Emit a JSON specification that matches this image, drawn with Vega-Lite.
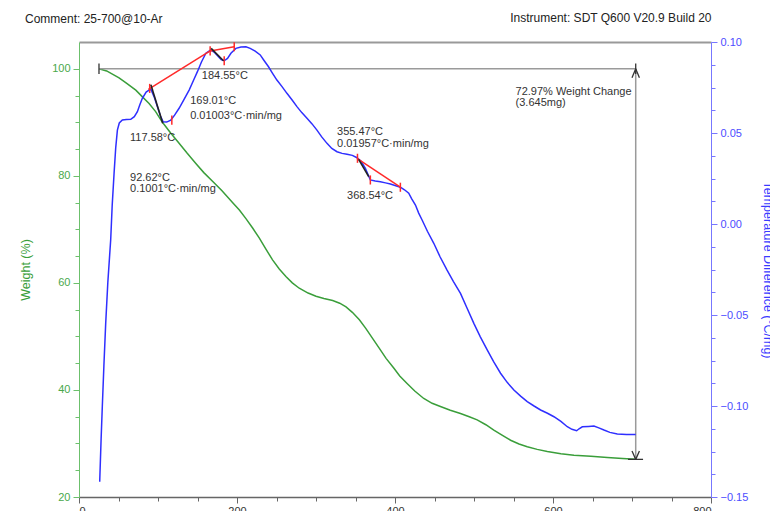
{
  "$schema": "https://vega.github.io/schema/vega-lite/v6.json",
  "width": 632,
  "height": 455,
  "autosize": {"type": "none"},
  "padding": {"left": 79, "top": 42, "right": 59, "bottom": 14},
  "background": "white",
  "config": {"view": {"stroke": null}, "font": "Liberation Sans", "axis": {"grid": false, "labelFontSize": 11, "titleFontSize": 12.5, "titleFontWeight": "normal", "labelOverlap": false}},
  "title": {"text": "Comment: 25-700@10-Ar", "anchor": "start", "frame": "group", "dx": -54, "dy": 15, "fontSize": 12, "fontWeight": "normal", "color": "#222", "offset": 0},
  "datasets": {
    "weight": [
      {"T": 25.3, "W": 100}, {"T": 35, "W": 99.6}, {"T": 50.7, "W": 98.3}, {"T": 60, "W": 97.3}, {"T": 71.9, "W": 96.0}, {"T": 80, "W": 94.8}, {"T": 88.7, "W": 93.5}, {"T": 97, "W": 92.0}, {"T": 105.6, "W": 90.0}, {"T": 116, "W": 88.0}, {"T": 126.7, "W": 86.1}, {"T": 137, "W": 84.2}, {"T": 147.9, "W": 82.3}, {"T": 158, "W": 80.6}, {"T": 169, "W": 79.0}, {"T": 181, "W": 77.2}, {"T": 194.3, "W": 75.0}, {"T": 203, "W": 73.6}, {"T": 211.3, "W": 72.0}, {"T": 220, "W": 70.2}, {"T": 228.1, "W": 68.4}, {"T": 236.6, "W": 66.3}, {"T": 245, "W": 64.3}, {"T": 253.5, "W": 62.6}, {"T": 261.9, "W": 61.2}, {"T": 270, "W": 60.0}, {"T": 278.8, "W": 59.0}, {"T": 290, "W": 58.1}, {"T": 300, "W": 57.5}, {"T": 310, "W": 57.1}, {"T": 321.1, "W": 56.7}, {"T": 330, "W": 56.2}, {"T": 338, "W": 55.5}, {"T": 346, "W": 54.5}, {"T": 354.9, "W": 53.1}, {"T": 363, "W": 51.5}, {"T": 371.8, "W": 49.6}, {"T": 380, "W": 47.8}, {"T": 388.7, "W": 45.9}, {"T": 398.4, "W": 44.1}, {"T": 406, "W": 42.6}, {"T": 415.3, "W": 41.2}, {"T": 425, "W": 39.8}, {"T": 436.4, "W": 38.4}, {"T": 447, "W": 37.5}, {"T": 457.5, "W": 36.9}, {"T": 470, "W": 36.2}, {"T": 482.9, "W": 35.6}, {"T": 494, "W": 35.0}, {"T": 504, "W": 34.4}, {"T": 515, "W": 33.5}, {"T": 525.1, "W": 32.5}, {"T": 536, "W": 31.5}, {"T": 546.3, "W": 30.6}, {"T": 557, "W": 29.9}, {"T": 567.4, "W": 29.4}, {"T": 580, "W": 28.9}, {"T": 592.8, "W": 28.5}, {"T": 610, "W": 28.1}, {"T": 626.5, "W": 27.8}, {"T": 648, "W": 27.6}, {"T": 668.8, "W": 27.4}, {"T": 688, "W": 27.2}, {"T": 704.7, "W": 27.05}
    ],
    "dta": [
      {"T": 26.2, "D": -0.1416}, {"T": 28, "D": -0.118}, {"T": 29.5, "D": -0.1004}, {"T": 31.5, "D": -0.078}, {"T": 33.8, "D": -0.0546}, {"T": 36.5, "D": -0.032}, {"T": 40.1, "D": -0.0088}, {"T": 42, "D": 0.010}, {"T": 44.4, "D": 0.0279}, {"T": 46.5, "D": 0.042}, {"T": 48.6, "D": 0.0516}, {"T": 51, "D": 0.0555}, {"T": 54.9, "D": 0.0571}, {"T": 60, "D": 0.0574}, {"T": 65.5, "D": 0.0575}, {"T": 70, "D": 0.0590}, {"T": 73.9, "D": 0.0617}, {"T": 77, "D": 0.0655}, {"T": 80.2, "D": 0.0691}, {"T": 85, "D": 0.0725}, {"T": 90.8, "D": 0.0742}, {"T": 95, "D": 0.0700}, {"T": 99.2, "D": 0.0645}, {"T": 103, "D": 0.0595}, {"T": 106.5, "D": 0.0562}, {"T": 111, "D": 0.0560}, {"T": 116.2, "D": 0.0571}, {"T": 121, "D": 0.0598}, {"T": 126.7, "D": 0.0636}, {"T": 133, "D": 0.0685}, {"T": 139.4, "D": 0.0736}, {"T": 145, "D": 0.0790}, {"T": 149.9, "D": 0.0837}, {"T": 155, "D": 0.0890}, {"T": 160.6, "D": 0.0938}, {"T": 166.9, "D": 0.0956}, {"T": 171, "D": 0.0945}, {"T": 176.6, "D": 0.0919}, {"T": 180, "D": 0.0903}, {"T": 183.8, "D": 0.0897}, {"T": 188, "D": 0.0910}, {"T": 192.3, "D": 0.0938}, {"T": 198.6, "D": 0.0965}, {"T": 205, "D": 0.0972}, {"T": 211.3, "D": 0.0974}, {"T": 216.7, "D": 0.0965}, {"T": 223, "D": 0.0950}, {"T": 229.4, "D": 0.0929}, {"T": 234, "D": 0.0900}, {"T": 239.9, "D": 0.0864}, {"T": 245, "D": 0.0828}, {"T": 250.5, "D": 0.0791}, {"T": 257, "D": 0.0755}, {"T": 263.2, "D": 0.0718}, {"T": 270, "D": 0.0680}, {"T": 275.9, "D": 0.0645}, {"T": 282, "D": 0.0612}, {"T": 288.6, "D": 0.0581}, {"T": 295, "D": 0.0550}, {"T": 301.2, "D": 0.0516}, {"T": 307, "D": 0.0480}, {"T": 313.9, "D": 0.0443}, {"T": 320, "D": 0.0415}, {"T": 326.6, "D": 0.0397}, {"T": 333, "D": 0.0388}, {"T": 339.3, "D": 0.0383}, {"T": 346, "D": 0.0377}, {"T": 351.9, "D": 0.0364}, {"T": 357, "D": 0.0345}, {"T": 362.5, "D": 0.0306}, {"T": 366, "D": 0.0270}, {"T": 368.8, "D": 0.0242}, {"T": 375, "D": 0.0236}, {"T": 381.5, "D": 0.0232}, {"T": 388, "D": 0.0226}, {"T": 394.2, "D": 0.0220}, {"T": 400, "D": 0.0212}, {"T": 406.8, "D": 0.0202}, {"T": 412, "D": 0.0188}, {"T": 417.4, "D": 0.0169}, {"T": 421, "D": 0.0140}, {"T": 425.9, "D": 0.0104}, {"T": 430, "D": 0.0060}, {"T": 434.3, "D": 0.0022}, {"T": 441, "D": -0.0040}, {"T": 449.1, "D": -0.0106}, {"T": 457, "D": -0.0180}, {"T": 465.9, "D": -0.0253}, {"T": 474, "D": -0.0316}, {"T": 482.9, "D": -0.0381}, {"T": 491, "D": -0.0460}, {"T": 499.8, "D": -0.0546}, {"T": 508, "D": -0.0620}, {"T": 516.7, "D": -0.0692}, {"T": 525, "D": -0.0758}, {"T": 533.6, "D": -0.0820}, {"T": 542, "D": -0.0870}, {"T": 550.5, "D": -0.0912}, {"T": 559, "D": -0.0946}, {"T": 567.4, "D": -0.0976}, {"T": 576, "D": -0.1000}, {"T": 584.3, "D": -0.1022}, {"T": 593, "D": -0.1040}, {"T": 601.2, "D": -0.1059}, {"T": 610, "D": -0.1085}, {"T": 618.1, "D": -0.1114}, {"T": 624, "D": -0.1128}, {"T": 629.9, "D": -0.1136}, {"T": 633, "D": -0.1125}, {"T": 637.1, "D": -0.1114}, {"T": 645, "D": -0.1112}, {"T": 651.8, "D": -0.1110}, {"T": 658, "D": -0.1120}, {"T": 664.5, "D": -0.1132}, {"T": 672, "D": -0.1145}, {"T": 681.4, "D": -0.1154}, {"T": 693, "D": -0.1157}, {"T": 704.7, "D": -0.1156}
    ],
    "wchange": [
      {"T": 25.3, "W": 100, "T2": 704.7, "W2": 100},
      {"T": 704.7, "W": 100, "T2": 704.7, "W2": 27.03}
    ],
    "wmarks": [
      {"T": 25.3, "W": 101.0, "T2": 25.3, "W2": 99.0},
      {"T": 704.7, "W": 101.0, "T2": 704.7, "W2": 99.0},
      {"T": 704.7, "W": 100, "T2": 700.0, "W2": 98.3},
      {"T": 704.7, "W": 100, "T2": 709.4, "W2": 98.3},
      {"T": 704.7, "W": 27.03, "T2": 700.0, "W2": 28.6},
      {"T": 704.7, "W": 27.03, "T2": 709.4, "W2": 28.6},
      {"T": 695.0, "W": 27.03, "T2": 714.0, "W2": 27.03}
    ],
    "wtext": [
      {"T": 552.6, "W": 95.66, "label": "72.97% Weight Change"},
      {"T": 552.6, "W": 93.6, "label": "(3.645mg)"}
    ],
    "red": [
      {"T": 87.8, "D": 0.0740, "T2": 166.0, "D2": 0.0951},
      {"T": 166.0, "D": 0.0951, "T2": 196.5, "D2": 0.0974},
      {"T": 351.9, "D": 0.0361, "T2": 406.8, "D2": 0.0202},
      {"T": 89.5, "D": 0.0770, "T2": 89.5, "D2": 0.0720},
      {"T": 117.5, "D": 0.0596, "T2": 117.5, "D2": 0.0546},
      {"T": 166.0, "D": 0.0976, "T2": 166.0, "D2": 0.0926},
      {"T": 183.8, "D": 0.0922, "T2": 183.8, "D2": 0.0872},
      {"T": 196.5, "D": 0.0999, "T2": 196.5, "D2": 0.0949},
      {"T": 352.5, "D": 0.0386, "T2": 352.5, "D2": 0.0336},
      {"T": 368.8, "D": 0.0267, "T2": 368.8, "D2": 0.0217},
      {"T": 406.8, "D": 0.0227, "T2": 406.8, "D2": 0.0177}
    ],
    "black": [
      {"T": 91.0, "D": 0.0765, "T2": 106.0, "D2": 0.0553},
      {"T": 167.3, "D": 0.0965, "T2": 182.9, "D2": 0.0897},
      {"T": 354.0, "D": 0.0355, "T2": 366.7, "D2": 0.0260}
    ],
    "dtext": [
      {"T": 155.5, "D": 0.0813, "label": "184.55°C"},
      {"T": 140.7, "D": 0.0676, "label": "169.01°C"},
      {"T": 140.7, "D": 0.0593, "label": "0.01003°C·min/mg"},
      {"T": 64.6, "D": 0.0475, "label": "117.58°C"},
      {"T": 64.6, "D": 0.0255, "label": "92.62°C"},
      {"T": 64.6, "D": 0.0192, "label": "0.1001°C·min/mg"},
      {"T": 326.6, "D": 0.0503, "label": "355.47°C"},
      {"T": 326.6, "D": 0.0440, "label": "0.01957°C·min/mg"},
      {"T": 339.3, "D": 0.0154, "label": "368.54°C"}
    ]
  },
  "layer": [
    {
      "data": {"name": "weight"},
      "mark": {"type": "line", "color": "#3a9e3a", "strokeWidth": 1.5},
      "encoding": {
        "x": {"field": "T", "type": "quantitative", "scale": {"domain": [0, 800], "nice": false, "zero": false},
          "axis": {"orient": "bottom", "title": null, "values": [0, 50, 100, 150, 200, 250, 300, 350, 400, 450, 500, 550, 600, 650, 700, 750, 800],
            "labelExpr": "datum.value % 200 === 0 ? datum.label : ''", "domainColor": "#666", "domainWidth": 1.5, "tickColor": "#666",
            "tickSize": {"condition": {"test": "datum.value % 200 === 0", "value": 6}, "value": 4}, "labelColor": "#333", "labelPadding": 2, "labelFontSize": 11}},
        "y": {"field": "W", "type": "quantitative", "scale": {"domain": [20, 105], "nice": false, "zero": false},
          "axis": {"orient": "left", "title": "Weight (%)", "titleColor": "#3a9e3a", "values": [20, 25, 30, 35, 40, 45, 50, 55, 60, 65, 70, 75, 80, 85, 90, 95, 100],
            "labelExpr": "datum.value % 20 === 0 ? datum.label : ''", "domainColor": "#6cc06c", "tickColor": "#6cc06c", "labelColor": "#4aa84a",
            "tickSize": {"condition": {"test": "datum.value % 20 === 0", "value": 6}, "value": 4}, "labelPadding": 3, "titlePadding": 19}}
      }
    },
    {
      "data": {"name": "wchange"},
      "mark": {"type": "rule", "color": "#9a9a9a", "strokeWidth": 1.5},
      "encoding": {
        "x": {"field": "T", "type": "quantitative", "scale": {"domain": [0, 800], "nice": false, "zero": false}, "axis": null},
        "y": {"field": "W", "type": "quantitative", "scale": {"domain": [20, 105], "nice": false, "zero": false}, "axis": null},
        "x2": {"field": "T2"},
        "y2": {"field": "W2"}
      }
    },
    {
      "data": {"name": "wmarks"},
      "mark": {"type": "rule", "color": "#333", "strokeWidth": 1.3},
      "encoding": {
        "x": {"field": "T", "type": "quantitative", "scale": {"domain": [0, 800], "nice": false, "zero": false}, "axis": null},
        "y": {"field": "W", "type": "quantitative", "scale": {"domain": [20, 105], "nice": false, "zero": false}, "axis": null},
        "x2": {"field": "T2"},
        "y2": {"field": "W2"}
      }
    },
    {
      "data": {"name": "wtext"},
      "mark": {"type": "text", "align": "left", "baseline": "middle", "fontSize": 11, "color": "#333"},
      "encoding": {
        "x": {"field": "T", "type": "quantitative", "scale": {"domain": [0, 800], "nice": false, "zero": false}, "axis": null},
        "y": {"field": "W", "type": "quantitative", "scale": {"domain": [20, 105], "nice": false, "zero": false}, "axis": null},
        "text": {"field": "label"}
      }
    },
    {
      "data": {"name": "dta"},
      "mark": {"type": "line", "color": "#2f2fff", "strokeWidth": 1.5},
      "encoding": {
        "x": {"field": "T", "type": "quantitative", "scale": {"domain": [0, 800], "nice": false, "zero": false},
          "axis": {"orient": "top", "title": "Instrument: SDT Q600 V20.9 Build 20", "titleAnchor": "end", "titleColor": "#222", "titleFontSize": 12,
            "labels": false, "ticks": false, "domainColor": "#999", "domainWidth": 2, "titlePadding": 18}},
        "y": {"field": "D", "type": "quantitative", "scale": {"domain": [-0.15, 0.10], "nice": false, "zero": false},
          "axis": {"orient": "right", "title": "Temperature Difference (°C/mg)", "titleColor": "#3b3bff", "format": ".2f",
            "values": [-0.15, -0.1375, -0.125, -0.1125, -0.1, -0.0875, -0.075, -0.0625, -0.05, -0.0375, -0.025, -0.0125, 0, 0.0125, 0.025, 0.0375, 0.05, 0.0625, 0.075, 0.0875, 0.1],
            "labelExpr": "abs(datum.value * 20 - round(datum.value * 20)) < 0.000001 ? datum.label : ''",
            "tickSize": {"condition": {"test": "abs(datum.value * 20 - round(datum.value * 20)) < 0.000001", "value": 6}, "value": 4},
            "domainColor": "#7777ff", "tickColor": "#7777ff", "labelColor": "#4d4dff", "labelPadding": 3, "titlePadding": 13}}
      }
    },
    {
      "data": {"name": "red"},
      "mark": {"type": "rule", "color": "#ff2a2a", "strokeWidth": 1.5},
      "encoding": {
        "x": {"field": "T", "type": "quantitative", "scale": {"domain": [0, 800], "nice": false, "zero": false}, "axis": null},
        "y": {"field": "D", "type": "quantitative", "scale": {"domain": [-0.15, 0.10], "nice": false, "zero": false}, "axis": null},
        "x2": {"field": "T2"},
        "y2": {"field": "D2"}
      }
    },
    {
      "data": {"name": "black"},
      "mark": {"type": "rule", "color": "#222", "strokeWidth": 1.6},
      "encoding": {
        "x": {"field": "T", "type": "quantitative", "scale": {"domain": [0, 800], "nice": false, "zero": false}, "axis": null},
        "y": {"field": "D", "type": "quantitative", "scale": {"domain": [-0.15, 0.10], "nice": false, "zero": false}, "axis": null},
        "x2": {"field": "T2"},
        "y2": {"field": "D2"}
      }
    },
    {
      "data": {"name": "dtext"},
      "mark": {"type": "text", "align": "left", "baseline": "middle", "fontSize": 11, "color": "#333"},
      "encoding": {
        "x": {"field": "T", "type": "quantitative", "scale": {"domain": [0, 800], "nice": false, "zero": false}, "axis": null},
        "y": {"field": "D", "type": "quantitative", "scale": {"domain": [-0.15, 0.10], "nice": false, "zero": false}, "axis": null},
        "text": {"field": "label"}
      }
    }
  ],
  "resolve": {"scale": {"y": "independent"}}
}
